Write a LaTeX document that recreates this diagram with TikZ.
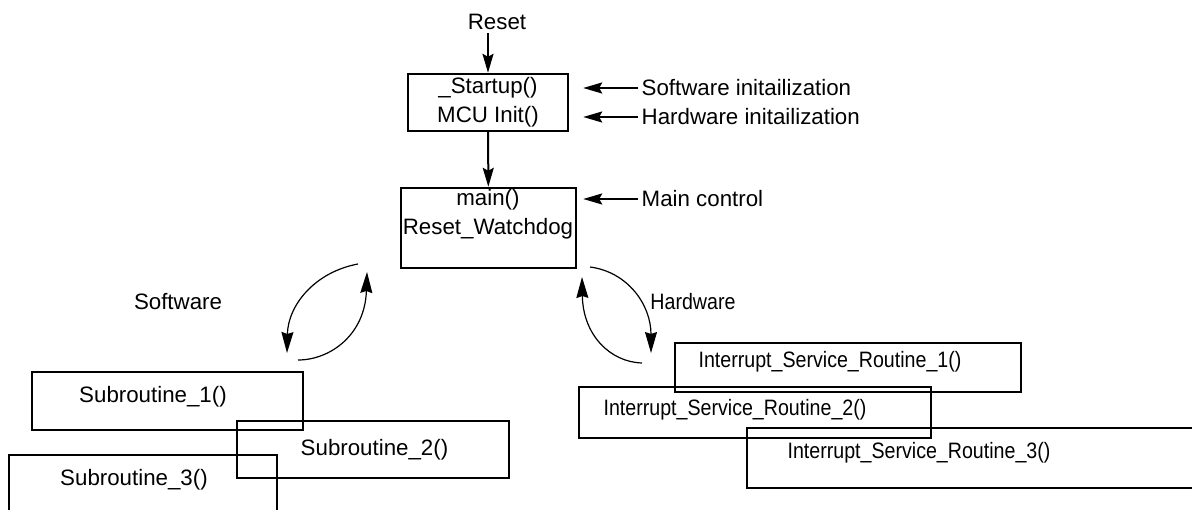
\documentclass[tikz,border=0pt]{standalone}
\usepackage{fontspec}
\setmainfont{Liberation Sans}
\newfontfamily\narrowfont[FakeStretch=0.88]{Liberation Sans}
\usetikzlibrary{arrows.meta}

\begin{document}
\begin{tikzpicture}[x=1pt,y=-1pt,
  font=\fontsize{22.3}{29}\selectfont,
  box/.style={draw,line width=2.4pt,inner sep=0pt},
  lbl/.style={inner sep=3.5pt},
  arr/.style={line width=2pt,-{Stealth[length=19pt,width=11pt,inset=3pt]}},
  swing/.style={line width=1.2pt,-{Stealth[length=21pt,width=12pt,inset=2pt]}}]

  \useasboundingbox (0,0) rectangle (1192,510);

  \node[lbl] (reset) at (497,22) {Reset}; %RESET
  \node[box,minimum width=160pt,minimum height=57pt,align=center] (startup) at (488,102.5) {\_Startup()\\MCU Init()}; %STARTUP
  \node[box,minimum width=175pt,minimum height=80pt] (main) at (488.5,228) {}; %MAIN
  \node[align=center] (maintext) at (488,214.5) {main()\\Reset\_Watchdog};

  \node[lbl,anchor=west] (swinit) at (638,88) {Software initailization};
  \node[lbl,anchor=west] (hwinit) at (638,117) {Hardware initailization};
  \node[lbl,anchor=west] (mainctl) at (638,199) {Main control};

  \draw[arr] (startup.north |- reset.south) -- (startup.north);
  \draw[arr] (startup) -- (main);
  \draw[arr,shorten >=14pt] (swinit.west) -- (swinit.west -| startup.east);
  \draw[arr,shorten >=14pt] (hwinit.west) -- (hwinit.west -| startup.east);
  \draw[arr,shorten >=6pt] (mainctl.west) -- (mainctl.west -| main.east);

  %SOFTWARE
  \node (software) at (178,302) {Software};
  \coordinate (swout) at (358,264);
  \coordinate (swin) at (287,353);
  \coordinate (swback) at (298,360);
  \coordinate (swret) at (367,272);
  \draw[swing] (swout) .. controls (315,272) and (288,305) .. (swin);
  \draw[swing] (swback) .. controls (330,360) and (365,335) .. (swret);

  %HARDWARE
  \node[font=\narrowfont\fontsize{22.3}{29}\selectfont] (hardware) at (693,302) {Hardware};
  \coordinate (hwout) at (590,267);
  \coordinate (hwin) at (651,353);
  \coordinate (hwback) at (642,363);
  \coordinate (hwret) at (582,277);
  \draw[swing] (hwout) .. controls (628,272) and (651,305) .. (hwin);
  \draw[swing] (hwback) .. controls (610,362) and (583,335) .. (hwret);

  %SUBROUTINES
  \node[box,minimum width=271pt,minimum height=58pt] (sub1) at (167.5,401) {};
  \node (sub1text) at (153,397) {Subroutine\_1()};
  \node[box,minimum width=272pt,minimum height=57pt] (sub2) at (373,449.5) {};
  \node (sub2text) at (374.5,450) {Subroutine\_2()};
  \node[box,minimum width=268pt,minimum height=85pt] (sub3) at (143,497.5) {};
  \node (sub3text) at (134,480) {Subroutine\_3()};

  %INTERRUPTS
  \begin{scope}[font=\narrowfont\fontsize{22.3}{29}\selectfont]
    \node[box,minimum width=346pt,minimum height=49pt] (isr1) at (848,367.5) {};
    \node (isr1text) at (830,362) {Interrupt\_Service\_Routine\_1()};
    \node[box,minimum width=352pt,minimum height=51pt] (isr2) at (755,412.5) {};
    \node (isr2text) at (735,410) {Interrupt\_Service\_Routine\_2()};
    \node[box,minimum width=483pt,minimum height=60pt] (isr3) at (988.5,458) {};
    \node (isr3text) at (919,453) {Interrupt\_Service\_Routine\_3()};
  \end{scope}

\end{tikzpicture}
\end{document}
